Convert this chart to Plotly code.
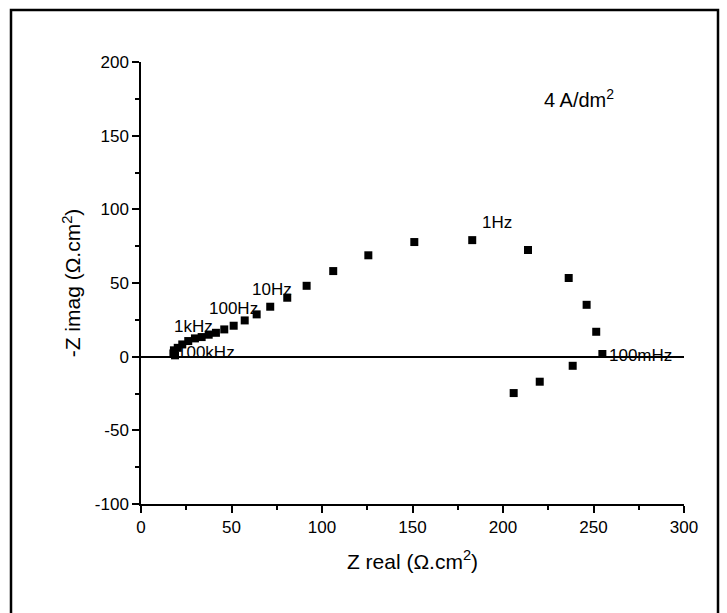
import plotly.graph_objects as go

# Nyquist data (Z real, -Z imag) in ohm.cm^2
z_real = [18.8, 17.9, 18.2, 20.3, 22.8, 26.1, 29.8, 33.5, 37.4, 41.4, 46.0, 51.2,
          57.3, 63.9, 71.4, 80.8, 91.5, 106.2, 125.6, 151.0, 183.0, 213.8, 236.3,
          246.2, 251.5, 254.9, 238.5, 220.3, 205.9]
z_imag = [0.9, 2.2, 4.3, 6.0, 8.3, 10.6, 12.4, 13.3, 14.9, 16.2, 18.5, 21.0,
          24.6, 28.7, 33.9, 40.0, 48.1, 58.1, 68.8, 77.8, 79.1, 72.4, 53.4,
          35.2, 16.9, 1.8, -6.2, -17.0, -24.7]

freq_labels = ["100kHz", "1kHz", "100Hz", "10Hz", "1Hz", "100mHz"]
label_x = [18.8, 17.0, 36.6, 60.2, 187.3, 257.6]
label_y = [2.6, 20.8, 32.5, 45.7, 90.9, 1.1]

x_ticks = [0, 50, 100, 150, 200, 250, 300]
x_ticktext = ["0", "50", "100", "150", "200", "250", "300"]
y_ticks = [-100, -50, 0, 50, 100, 150, 200]
y_ticktext = ["-100", "-50", "0", "50", "100", "150", "200"]

FONT = "Liberation Sans, Arial, sans-serif"

fig = go.Figure()
fig.add_trace(go.Scatter(
    x=z_real, y=z_imag, mode="markers",
    marker=dict(symbol="square", size=8, color="black"),
    showlegend=False,
))

for t, x, y in zip(freq_labels, label_x, label_y):
    fig.add_annotation(x=x, y=y, text=t, showarrow=False, xanchor="left",
                       yanchor="middle", font=dict(size=17, color="black", family=FONT))

fig.add_annotation(x=221.8, y=175.5, text="4 A/dm<sup>2</sup>", showarrow=False,
                   xanchor="left", yanchor="middle",
                   font=dict(size=20, color="black", family=FONT))

W, H = 727, 613
L, R, T, B = 141, 43, 62, 109
pw, ph = W - L - R, H - T - B

def px(xp):
    return (xp - L) / pw

def py(yp):
    return (H - B - yp) / ph

# outer frame
fig.add_shape(type="path", xref="paper", yref="paper",
              path=f"M {px(11)} {py(613)} L {px(11)} {py(10)} L {px(718)} {py(10)} L {px(718)} {py(613)}",
              line=dict(color="black", width=2.5))

axis_common = dict(
    showline=True, linecolor="black", linewidth=1.5,
    ticks="outside", ticklen=7, tickwidth=1.5, tickcolor="black",
    showgrid=False,
    tickfont=dict(size=17, color="black", family=FONT),
    minor=dict(ticks="outside", ticklen=4, tickwidth=1.5, tickcolor="black", showgrid=False),
)

fig.update_xaxes(range=[0, 300], tickmode="array", tickvals=x_ticks, ticktext=x_ticktext,
                 zeroline=False, minor_dtick=25, minor_tick0=0,
                 title=dict(text="Z real (Ω.cm<sup>2</sup>)", standoff=18,
                            font=dict(size=21, color="black", family=FONT)),
                 **axis_common)
fig.update_yaxes(range=[-100, 200], tickmode="array", tickvals=y_ticks, ticktext=y_ticktext,
                 zeroline=True, zerolinecolor="black", zerolinewidth=1.5,
                 minor_dtick=25, minor_tick0=0,
                 title=dict(text="-Z imag (Ω.cm<sup>2</sup>)", standoff=8,
                            font=dict(size=21, color="black", family=FONT)),
                 **axis_common)

fig.update_layout(
    width=W, height=H,
    margin=dict(l=L, r=R, t=T, b=B, autoexpand=False),
    paper_bgcolor="white", plot_bgcolor="white",
    font=dict(family=FONT, color="black"),
)

fig.write_html("out.html")
